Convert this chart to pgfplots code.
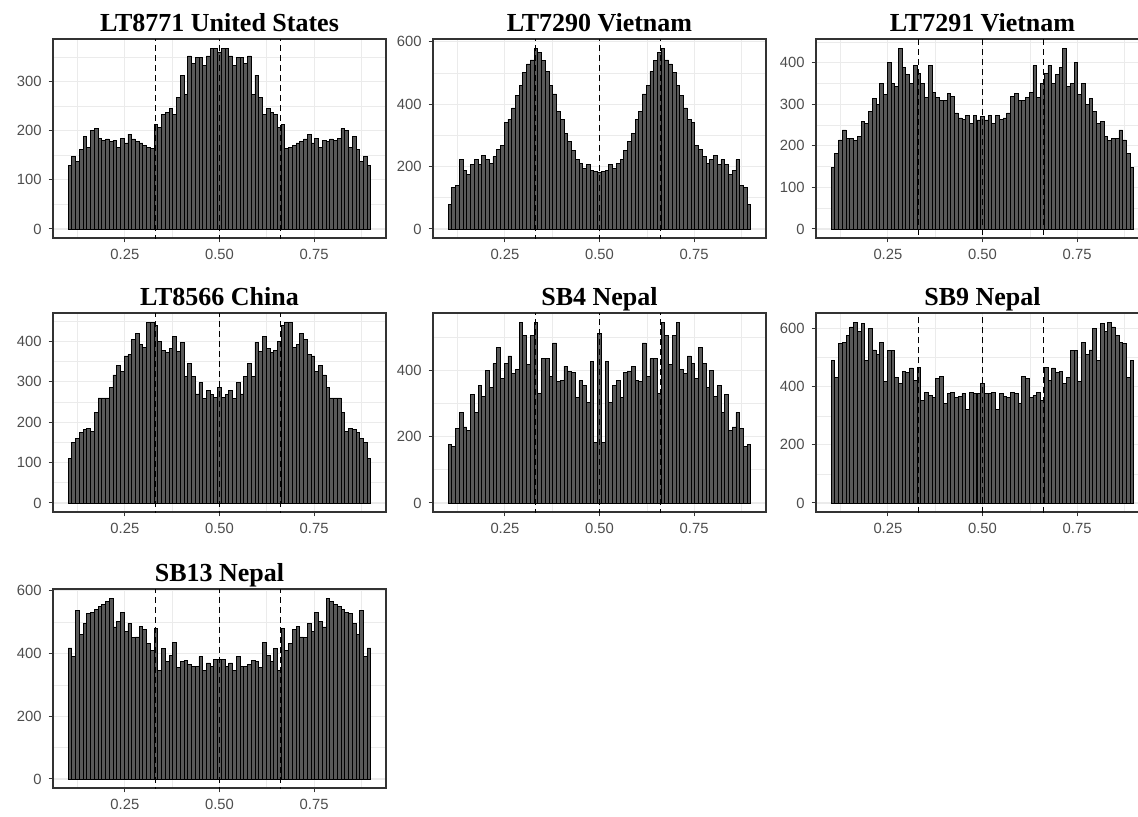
\documentclass[border=0pt]{standalone}
\usepackage{fontspec}
\setmainfont{Liberation Sans}
\newfontfamily\titlefont{Liberation Serif}
\usepackage{pgfplots}
\usepackage{pgfplotstable}
\pgfplotsset{compat=1.18}
\definecolor{g92}{HTML}{EBEBEB}
\definecolor{g20}{HTML}{333333}
\definecolor{g30}{HTML}{4D4D4D}
\definecolor{barfill}{HTML}{595959}

\pgfplotstableread[row sep=\\]{v\\130\\147\\137\\162\\188\\165\\201\\204\\185\\180\\183\\178\\180\\165\\185\\175\\193\\183\\178\\175\\170\\165\\163\\213\\207\\233\\237\\245\\233\\268\\313\\273\\352\\337\\348\\348\\333\\352\\368\\368\\360\\368\\368\\352\\333\\348\\348\\337\\352\\273\\313\\268\\233\\245\\237\\233\\207\\213\\163\\165\\170\\175\\178\\183\\193\\175\\185\\165\\180\\178\\183\\180\\185\\204\\201\\165\\188\\162\\137\\147\\130\\}\tA
\pgfplotstableread[row sep=\\]{v\\79\\134\\140\\222\\188\\175\\206\\222\\206\\236\\222\\209\\232\\255\\267\\342\\352\\388\\428\\460\\502\\529\\542\\580\\567\\540\\505\\460\\433\\377\\350\\305\\282\\252\\222\\209\\193\\206\\188\\185\\180\\185\\188\\206\\193\\209\\222\\252\\282\\305\\350\\377\\433\\460\\505\\540\\567\\580\\542\\529\\502\\460\\428\\388\\352\\342\\267\\255\\232\\209\\222\\236\\206\\222\\206\\175\\188\\222\\140\\134\\79\\}\tB
\pgfplotstableread[row sep=\\]{v\\147\\182\\214\\238\\217\\217\\213\\222\\259\\254\\283\\313\\299\\349\\323\\401\\350\\343\\435\\389\\371\\350\\393\\374\\350\\317\\393\\329\\317\\309\\309\\325\\318\\279\\267\\264\\273\\254\\273\\262\\270\\262\\273\\254\\273\\264\\267\\279\\318\\325\\309\\309\\317\\329\\393\\317\\350\\374\\393\\350\\371\\389\\435\\343\\350\\401\\323\\349\\299\\313\\283\\254\\259\\222\\213\\217\\217\\238\\214\\182\\147\\}\tC
\pgfplotstableread[row sep=\\]{v\\111\\150\\160\\174\\182\\185\\177\\225\\260\\260\\260\\287\\317\\340\\326\\364\\367\\404\\419\\392\\386\\448\\448\\440\\400\\378\\372\\383\\412\\375\\398\\313\\345\\313\\270\\298\\258\\278\\268\\262\\285\\262\\268\\278\\258\\298\\270\\313\\345\\313\\398\\375\\412\\383\\372\\378\\400\\440\\448\\448\\386\\392\\419\\404\\367\\364\\326\\340\\317\\287\\260\\260\\260\\225\\177\\185\\182\\174\\160\\150\\111\\}\tD
\pgfplotstableread[row sep=\\]{v\\176\\170\\224\\273\\229\\219\\326\\273\\354\\322\\400\\348\\420\\468\\376\\420\\443\\390\\403\\545\\505\\418\\505\\545\\331\\435\\435\\382\\482\\365\\368\\412\\395\\393\\319\\368\\355\\302\\427\\183\\512\\183\\427\\302\\355\\368\\319\\393\\395\\412\\368\\365\\482\\382\\435\\435\\331\\545\\505\\418\\505\\545\\403\\390\\443\\420\\376\\468\\420\\348\\400\\322\\354\\273\\326\\219\\229\\273\\224\\170\\176\\}\tE
\pgfplotstableread[row sep=\\]{v\\492\\432\\548\\553\\576\\606\\623\\591\\618\\492\\602\\527\\510\\553\\417\\525\\525\\432\\411\\454\\450\\465\\423\\467\\353\\382\\370\\363\\428\\437\\343\\377\\382\\362\\368\\377\\323\\382\\377\\377\\411\\377\\377\\382\\323\\377\\368\\362\\382\\377\\343\\437\\428\\363\\370\\382\\353\\467\\423\\465\\450\\454\\411\\432\\525\\525\\417\\553\\510\\527\\602\\492\\618\\591\\623\\606\\576\\553\\548\\432\\492\\}\tF
\pgfplotstableread[row sep=\\]{v\\418\\391\\537\\460\\495\\527\\531\\540\\550\\556\\566\\577\\485\\503\\531\\471\\497\\450\\453\\487\\478\\432\\410\\481\\345\\415\\375\\395\\435\\355\\375\\378\\365\\360\\360\\390\\345\\370\\360\\380\\380\\380\\360\\370\\345\\390\\360\\360\\365\\378\\375\\355\\435\\395\\375\\415\\345\\481\\410\\432\\478\\487\\453\\450\\497\\471\\531\\503\\485\\577\\566\\556\\550\\540\\531\\527\\495\\460\\537\\391\\418\\}\tG

\pgfplotsset{
  hist/.style={
    scale only axis, width=166.5pt, height=99.5pt,
    anchor=north west,
    xmin=0.06, xmax=0.94,
    xtick={0.25,0.5,0.75}, xticklabels={0.25,0.50,0.75},
    minor xtick={0.125,0.375,0.625,0.875},
    grid=both,
    major grid style={draw=g92, line width=0.55pt},
    minor grid style={draw=g92, line width=0.3pt},
    axis line style={draw=g20, line width=0.6pt},
    tick align=outside, xtick pos=left, ytick pos=left,
    major tick length=2.2pt, minor tick length=0pt,
    tick style={draw=g20, line width=0.5pt},
    tick label style={font=\fontsize{7.4}{8}\selectfont, text=g30},
    /pgf/number format/assume math mode=true,
    every axis title shift=0pt,
    title style={font=\titlefont\bfseries\fontsize{13}{14}\selectfont, anchor=base, at={(0.5,1)}, yshift=4pt},
  },
  bars/.style={ybar, bar width=0.009877, fill=barfill, draw=black, line width=0.4pt},
  vl/.style={black, line width=0.5pt, dash pattern=on 3pt off 2pt},
}
\newcommand{\vlines}{%
  \addplot[vl] coordinates {(0.33,-1000) (0.33,2000)};
  \addplot[vl] coordinates {(0.5,-1000) (0.5,2000)};
  \addplot[vl] coordinates {(0.66,-1000) (0.66,2000)};
}

\begin{document}
\begin{tikzpicture}
\useasboundingbox (0,0) rectangle (569pt,-408pt);
\clip (0,0) rectangle (569pt,-408pt);

\begin{axis}[hist, at={(26.5pt,-19.5pt)}, title={LT8771 United States},
  ymin=-18.4, ymax=386.4, ytick={0,100,200,300}, minor ytick={50,150,250,350}]
\addplot[bars] table[x expr={0.1+(\coordindex+0.5)*0.8/81}, y=v] {\tA};
\vlines
\end{axis}

\begin{axis}[hist, at={(216.5pt,-19.5pt)}, title={LT7290 Vietnam},
  ymin=-29, ymax=609, ytick={0,200,400,600}, minor ytick={100,300,500}]
\addplot[bars] table[x expr={0.1+(\coordindex+0.5)*0.8/81}, y=v] {\tB};
\vlines
\end{axis}

\begin{axis}[hist, at={(408pt,-19.5pt)}, title={LT7291 Vietnam},
  ymin=-21.75, ymax=456.75, ytick={0,100,200,300,400}, minor ytick={50,150,250,350,450}]
\addplot[bars] table[x expr={0.1+(\coordindex+0.5)*0.8/81}, y=v] {\tC};
\vlines
\end{axis}

\begin{axis}[hist, at={(26.5pt,-156.5pt)}, title={LT8566 China},
  ymin=-22.4, ymax=470.4, ytick={0,100,200,300,400}, minor ytick={50,150,250,350,450}]
\addplot[bars] table[x expr={0.1+(\coordindex+0.5)*0.8/81}, y=v] {\tD};
\vlines
\end{axis}

\begin{axis}[hist, at={(216.5pt,-156.5pt)}, title={SB4 Nepal},
  ymin=-27.25, ymax=572.25, ytick={0,200,400}, minor ytick={100,300,500}]
\addplot[bars] table[x expr={0.1+(\coordindex+0.5)*0.8/81}, y=v] {\tE};
\vlines
\end{axis}

\begin{axis}[hist, at={(408pt,-156.5pt)}, title={SB9 Nepal},
  ymin=-31.15, ymax=654.15, ytick={0,200,400,600}, minor ytick={100,300,500}]
\addplot[bars] table[x expr={0.1+(\coordindex+0.5)*0.8/81}, y=v] {\tF};
\vlines
\end{axis}

\begin{axis}[hist, at={(26.5pt,-294.5pt)}, title={SB13 Nepal},
  ymin=-28.85, ymax=605.85, ytick={0,200,400,600}, minor ytick={100,300,500}]
\addplot[bars] table[x expr={0.1+(\coordindex+0.5)*0.8/81}, y=v] {\tG};
\vlines
\end{axis}
\end{tikzpicture}
\end{document}
